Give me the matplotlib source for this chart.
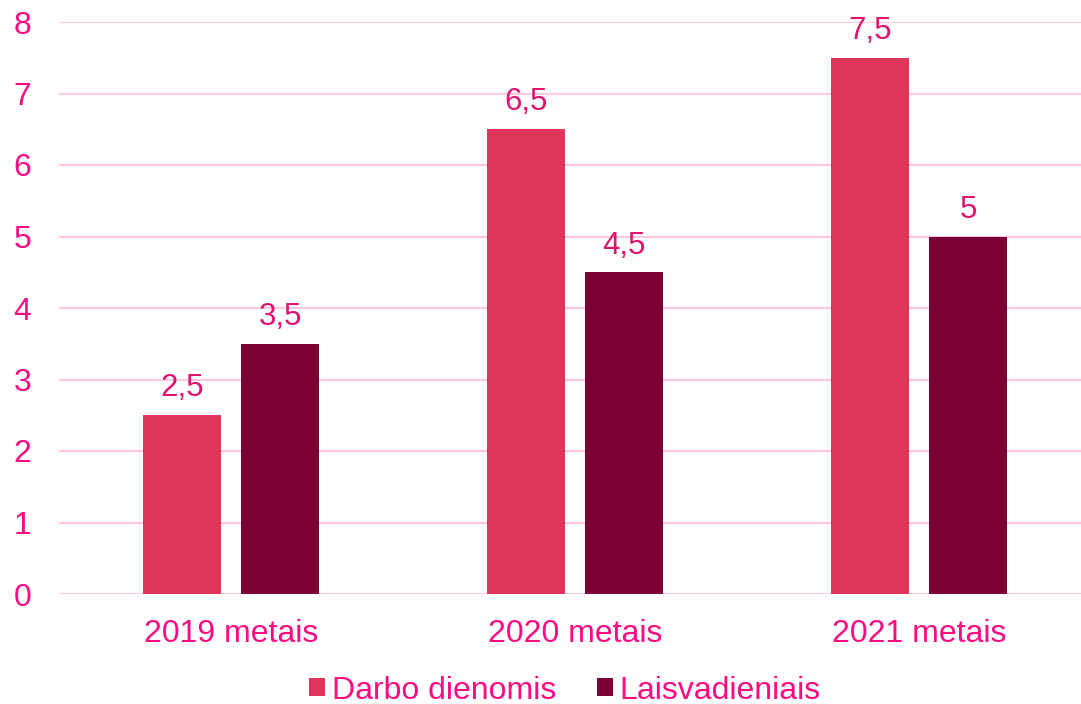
import numpy as np
from matplotlib import pyplot as plt

plt.rcParams['font.family'] = ['Liberation Sans', 'DejaVu Sans']

categories = ['2019 metais', '2020 metais', '2021 metais']
darbo = [2.5, 6.5, 7.5]
laisv = [3.5, 4.5, 5]
labels_darbo = ['2,5', '6,5', '7,5']
labels_laisv = ['3,5', '4,5', '5']

text_color = '#FF0A80'
label_color = '#E3126F'
grid_color = '#FFC8E0'
c1 = '#E0355A'
c2 = '#7A0036'

fig = plt.figure(figsize=(10.81, 7.04), dpi=100)
ax = fig.add_axes([59 / 1081, 1 - 594 / 704, 1032 / 1081, 572 / 704])

x = np.arange(len(categories))
w = 0.224
off = 0.1424
b1 = ax.bar(x - off, darbo, w, color=c1, label='Darbo dienomis', zorder=3)
b2 = ax.bar(x + off, laisv, w, color=c2, label='Laisvadieniais', zorder=3)

for bars, labs in ((b1, labels_darbo), (b2, labels_laisv)):
    for rect, lab in zip(bars, labs):
        ax.annotate(lab, (rect.get_x() + rect.get_width() / 2, rect.get_height()),
                    xytext=(0, 13.5), textcoords='offset points', ha='center', va='baseline',
                    color=label_color, fontsize=22.5, zorder=4)

ax.set_xlim(-0.5, 2.5)
ax.set_ylim(0, 8)
ax.set_yticks(range(9))
ax.set_xticks(x)
ax.set_xticklabels(categories)
ax.tick_params(axis='both', length=0, labelsize=23, labelcolor=text_color)
ax.tick_params(axis='x', pad=18)
ax.tick_params(axis='y', pad=20)
ax.grid(axis='y', color=grid_color, linewidth=1.5, zorder=0)
for s in ax.spines.values():
    s.set_visible(False)

leg = ax.legend(loc='center', bbox_to_anchor=(0.5 - 10 / 1032, -0.169), ncol=2, frameon=False,
                fontsize=23, handlelength=0.5, handleheight=0.5, handletextpad=0.2,
                columnspacing=1.3, borderpad=0)
for t in leg.get_texts():
    t.set_color(text_color)

fig.savefig('out.png', dpi=100)
